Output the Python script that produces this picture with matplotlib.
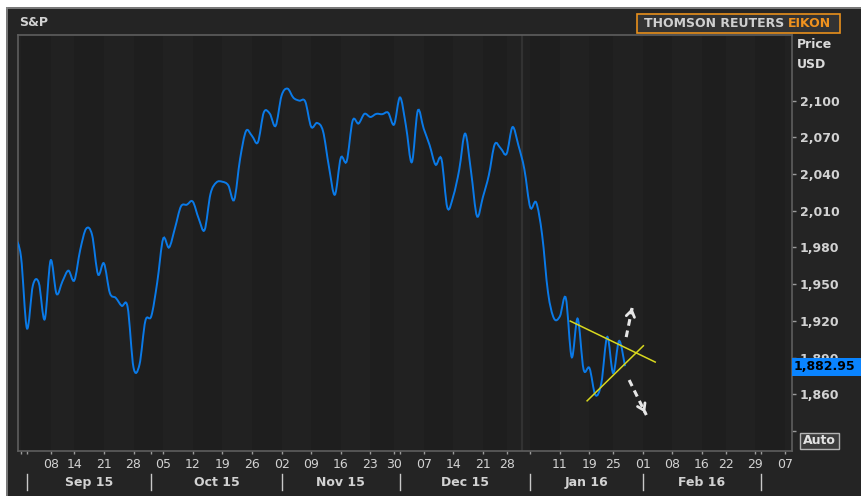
import numpy as np
import pandas as pd
import matplotlib
matplotlib.use('Agg')
import matplotlib.pyplot as plt
import matplotlib.transforms as mtransforms
from matplotlib.path import Path
from matplotlib.patches import PathPatch, Rectangle
from matplotlib.lines import Line2D

# S&P 500 daily closes, 28 Aug 2015 -> 27 Jan 2016
closes = [
    1988.87, 1972.18,
    1913.85, 1948.86, 1951.13, 1921.22, 1969.41, 1942.04, 1952.29, 1961.05,
    1953.03, 1978.09, 1995.31, 1990.20, 1958.03, 1966.97, 1942.74, 1938.76,
    1932.24, 1931.34, 1881.77, 1884.09, 1920.03,
    1923.82, 1951.36, 1987.05, 1979.92, 1995.83, 2013.43, 2014.89, 2017.46,
    2003.69, 1994.24, 2023.86, 2033.11, 2033.66, 2030.77, 2018.94, 2052.51,
    2075.15, 2071.18, 2065.89, 2090.35, 2089.41, 2079.36,
    2104.05, 2109.79, 2102.31, 2099.93, 2099.20, 2078.58, 2081.72, 2075.00,
    2045.97, 2023.04, 2053.19, 2050.44, 2083.58, 2081.24, 2089.17, 2086.59,
    2089.14, 2088.87, 2090.11, 2080.41,
    2102.63, 2079.51, 2049.62, 2091.69, 2077.07, 2063.59, 2047.62, 2052.23,
    2012.37, 2021.94, 2043.41, 2073.07, 2041.89, 2005.55, 2021.15, 2038.97,
    2064.29, 2060.99, 2056.50, 2078.36, 2063.36, 2043.94,
    2012.66, 2016.71, 1990.26, 1943.09, 1922.03, 1923.67, 1938.68, 1890.28,
    1921.84, 1880.33, 1881.33, 1859.33, 1868.99, 1906.90, 1877.08, 1903.63,
    1882.95,
]
last_price = '1,882.95'

holidays = ['2015-09-07', '2015-11-26', '2015-12-25', '2016-01-01',
            '2016-01-18', '2016-02-15']
days = pd.bdate_range('2015-08-28', '2016-03-07', freq='C', holidays=holidays)

tick_dates = ['2015-08-31', '2015-09-01', '2015-09-08', '2015-09-14', '2015-09-21',
              '2015-09-28', '2015-10-01', '2015-10-05', '2015-10-12', '2015-10-19',
              '2015-10-26', '2015-11-02', '2015-11-09', '2015-11-16', '2015-11-23',
              '2015-11-30', '2015-12-01', '2015-12-07', '2015-12-14', '2015-12-21',
              '2015-12-28', '2016-01-04', '2016-01-11', '2016-01-19', '2016-01-25',
              '2016-02-01', '2016-02-08', '2016-02-16', '2016-02-22', '2016-02-29',
              '2016-03-01', '2016-03-07']
tick_labels = ['', '', '08', '14', '21', '28', '', '05', '12', '19', '26', '02', '09',
               '16', '23', '30', '', '07', '14', '21', '28', '', '11', '19', '25',
               '01', '08', '16', '22', '29', '', '07']
week_starts = ['2015-08-31', '2015-09-08', '2015-09-14', '2015-09-21', '2015-09-28',
               '2015-10-05', '2015-10-12', '2015-10-19', '2015-10-26', '2015-11-02',
               '2015-11-09', '2015-11-16', '2015-11-23', '2015-11-30', '2015-12-07',
               '2015-12-14', '2015-12-21', '2015-12-28', '2016-01-04', '2016-01-11',
               '2016-01-19', '2016-01-25', '2016-02-01', '2016-02-08', '2016-02-16',
               '2016-02-22', '2016-02-29', '2016-03-07']
month_starts = ['2015-09-01', '2015-10-01', '2015-11-02', '2015-12-01',
                '2016-01-04', '2016-02-01', '2016-03-01']
month_names = ['Sep 15', 'Oct 15', 'Nov 15', 'Dec 15', 'Jan 16', 'Feb 16']
yticks = [1830, 1860, 1890, 1920, 1950, 1980, 2010, 2040, 2070, 2100]
# 1,830 sits under the "Auto" button in the original, so no label there
ytick_labels = ['', '1,860', '1,890', '1,920', '1,950', '1,980', '2,010', '2,040',
                '2,070', '2,100']

# hand drawn triangle (trading-day index, price)
upper_line_x = [93.75, 108.1]
upper_line_y = [1919.8, 1886.3]
lower_line_x = [96.6, 106.1]
lower_line_y = [1854.6, 1899.6]
arrow_up = [(103.2, 1906.7), (104.2, 1930.5)]
arrow_down = [(103.7, 1871.6), (106.6, 1843.0)]


def idx(d):
    return days.get_loc(pd.Timestamp(d))


W, H = 861, 496
BG = '#242424'
TXT = '#d2d2d2'

fig = plt.figure(figsize=(W / 100, H / 100), dpi=100)
fig.patch.set_facecolor(BG)


def fx(px):
    return px / W


def fy(py):
    return 1 - py / H


# white outer margin + grey border
fig.add_artist(Rectangle((0, fy(7)), 1, 7 / H, transform=fig.transFigure,
                         facecolor='white', edgecolor='none'))
fig.add_artist(Rectangle((0, 0), 6 / W, 1, transform=fig.transFigure,
                         facecolor='white', edgecolor='none'))
fig.add_artist(Line2D([fx(6.5), 1], [fy(7.5), fy(7.5)], transform=fig.transFigure,
                      color='#8a8a8a', lw=1.2))
fig.add_artist(Line2D([fx(6.5), fx(6.5)], [0, fy(7.5)], transform=fig.transFigure,
                      color='#8a8a8a', lw=1.2))

ax = fig.add_axes([fx(18), fy(451), (792 - 18) / W, (451 - 35) / H])
ax.set_facecolor('#212121')
for s in ax.spines.values():
    s.set_color('#5e5e5e')
    s.set_linewidth(1.2)

x = np.arange(len(closes))
ax.set_xlim(0.49, 131.2)
ax.set_ylim(1813.6, 2153.6)

# weekly bands
ws = [idx(d) for d in week_starts]
for k in range(len(ws) - 1):
    if k % 2 == 0:
        ax.axvspan(ws[k], ws[k + 1], color='#1e1e1e', lw=0, zorder=0)
ax.axvline(idx('2015-12-31') - 0.42, color='#323232', lw=1.6, zorder=0.5)

# smooth price line (Catmull-Rom as cubic Bezier segments)
pts = np.column_stack([x, closes]).astype(float)
verts = [pts[0]]
codes = [Path.MOVETO]
for i in range(len(pts) - 1):
    p0 = pts[max(i - 1, 0)]
    p1 = pts[i]
    p2 = pts[i + 1]
    p3 = pts[min(i + 2, len(pts) - 1)]
    verts += [p1 + (p2 - p0) / 6, p2 - (p3 - p1) / 6, p2]
    codes += [Path.CURVE4] * 3
ax.add_patch(PathPatch(Path(verts, codes), facecolor='none', edgecolor='#0a7ae8',
                       lw=1.4, zorder=3))

# triangle and arrows
ax.plot(upper_line_x, upper_line_y, color='#d8d81e', lw=1.1, zorder=4)
ax.plot(lower_line_x, lower_line_y, color='#d8d81e', lw=1.1, zorder=4)
for (tx, ty), (hx, hy) in [arrow_up, arrow_down]:
    ax.plot([tx, hx], [ty, hy], color='#e6e6e6', lw=2.2, ls=(0, (2.2, 1.6)),
            solid_capstyle='butt', zorder=5)
    ax.annotate('', xy=(hx, hy), xytext=(hx - (hx - tx) * 0.15, hy - (hy - ty) * 0.15),
                arrowprops=dict(arrowstyle='->,head_length=0.45,head_width=0.3',
                                color='#e6e6e6', lw=2.0), zorder=5)

# y axis on right
ax.yaxis.tick_right()
ax.set_yticks(yticks)
ax.set_yticklabels(ytick_labels)
ax.tick_params(axis='y', length=3, width=1, color='#9a9a9a', pad=2.5,
               labelcolor=TXT, labelsize=9)
for lbl in ax.get_yticklabels():
    lbl.set_fontweight('bold')
    if lbl.get_text() == '1,890':
        # only the top of this label peeks out above the price tag
        lbl.set_clip_box(mtransforms.Bbox.from_extents(780, H - 358, W, H - 340))
        lbl.set_clip_on(True)

# x axis
ax.set_xticks([idx(d) for d in tick_dates])
ax.set_xticklabels(tick_labels)
ax.tick_params(axis='x', length=2.5, width=1, color='#9a9a9a', pad=2.5,
               labelcolor=TXT, labelsize=9)

trans = mtransforms.blended_transform_factory(ax.transData, ax.transAxes)
ms = [idx(d) for d in month_starts]
for m in ms:
    ax.plot([m, m], [-0.056, -0.094], transform=trans, clip_on=False,
            color='#c8c8c8', lw=1)
for k, name in enumerate(month_names):
    ax.text((ms[k] + ms[k + 1]) / 2, -0.0765, name, transform=trans, ha='center',
            va='center', fontsize=9, fontweight='bold', color=TXT)

# header texts
fig.text(fx(19), fy(22), 'S&P', fontsize=9, fontweight='bold', color=TXT, va='center')
fig.text(fx(797), fy(44), 'Price', fontsize=9, fontweight='bold', color='#dadada',
         va='center')
fig.text(fx(797), fy(64), 'USD', fontsize=9, fontweight='bold', color='#dadada',
         va='center')

# logo
fig.add_artist(Rectangle((fx(637), fy(33)), (840 - 637) / W, 19 / H,
                         transform=fig.transFigure, facecolor='#333333',
                         edgecolor='#e8901c', lw=1.2))
eikon = fig.text(fx(831), fy(23.5), 'EIKON', fontsize=9, fontweight='bold',
                 color='#f0921e', ha='right', va='center')
r = fig.canvas.get_renderer()
bb = eikon.get_window_extent(r)
fig.text((bb.x0 - 4) / W, fy(23.5), 'THOMSON REUTERS', fontsize=9,
         fontweight='bold', color='#cfcfcf', ha='right', va='center')

# last price tag
fig.add_artist(Rectangle((fx(792), fy(376)), (861 - 792) / W, 18 / H,
                         transform=fig.transFigure, facecolor='#0a84ff',
                         edgecolor='none', zorder=5))
fig.text(fx(794), fy(367), last_price, fontsize=9, fontweight='bold', color='black',
         va='center', zorder=6)

# Auto button
fig.add_artist(Rectangle((fx(800), fy(449)), 39 / W, 16 / H,
                         transform=fig.transFigure, facecolor='#3c3c3c',
                         edgecolor='#b4b4b4', lw=1, zorder=5))
fig.text(fx(819.5), fy(441), 'Auto', fontsize=9, fontweight='bold', color='#e2e2e2',
         ha='center', va='center', zorder=6)

fig.savefig('out.png', dpi=100, facecolor=fig.get_facecolor())
